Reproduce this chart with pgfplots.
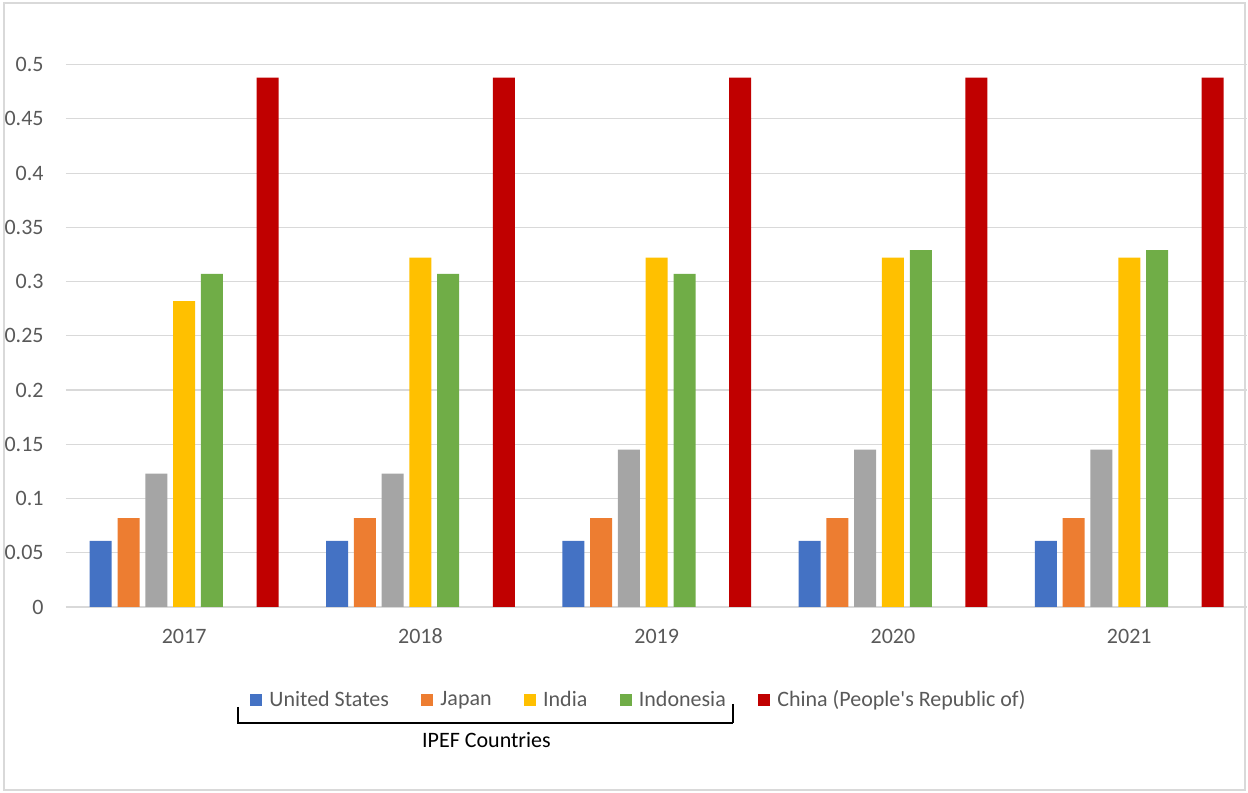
\documentclass[border=0pt]{standalone}
\usepackage{fontspec}
\setmainfont{Carlito}[Ligatures=TeXOff]
\usepackage{pgfplots}
\pgfplotsset{compat=1.18}

\definecolor{cUS}{HTML}{4472C4}
\definecolor{cJP}{HTML}{ED7D31}
\definecolor{cGR}{HTML}{A5A5A5}
\definecolor{cIN}{HTML}{FFC000}
\definecolor{cID}{HTML}{70AD47}
\definecolor{cCN}{HTML}{C00000}
\definecolor{cLab}{HTML}{595959}
\definecolor{cGrid}{HTML}{D9D9D9}

\begin{document}
\begin{tikzpicture}[font=\fontsize{11}{13}\selectfont]
  \begin{axis}[
      scale only axis,
      width=590.75pt,
      height=298.3pt,
      xmin=-0.5, xmax=4.5,
      ymin=0, ymax=0.55,
      enlargelimits=false,
      ybar,
      bar width=11pt,
      xtick={0,1,2,3,4},
      xticklabels={2017,2018,2019,2020,2021},
      ytick={0,0.05,0.1,0.15,0.2,0.25,0.3,0.35,0.4,0.45,0.5},
      scaled y ticks=false,
      yticklabel style={/pgf/number format/fixed,/pgf/number format/precision=2,
        anchor=east, inner sep=0pt, xshift=-11pt},
      xticklabel style={anchor=base, yshift=-18.5pt},
      /pgf/number format/assume math mode=true,
      tick label style={text=cLab},
      major tick length=0pt,
      axis line style={draw=none},
      ymajorgrids,
      grid style={draw=cGrid, line width=0.6pt},
      every axis plot/.append style={draw=none,
        legend image code/.code={\fill[#1,draw=none] (0pt,-3pt) rectangle (6pt,3pt);}},
      legend style={at={(0.15574,-0.1558)}, anchor=west, draw=none, fill=none,
        inner sep=0pt, text=cLab, legend columns=-1,
        /tikz/every even column/.append style={column sep=14.25pt},
        /tikz/every odd column/.append style={column sep=1.5pt}},
    ]
    % United States
    \addplot[fill=cUS, bar shift=-41.7pt] coordinates {
      (0,0.061) (1,0.061) (2,0.061) (3,0.061) (4,0.061)};
    % Japan
    \addplot[fill=cJP, bar shift=-27.8pt] coordinates {
      (0,0.082) (1,0.082) (2,0.082) (3,0.082) (4,0.082)};
    % unnamed grey series
    \addplot[fill=cGR, bar shift=-13.9pt, forget plot] coordinates {
      (0,0.123) (1,0.123) (2,0.145) (3,0.145) (4,0.145)};
    % India
    \addplot[fill=cIN, bar shift=0pt] coordinates {
      (0,0.282) (1,0.322) (2,0.322) (3,0.322) (4,0.322)};
    % Indonesia
    \addplot[fill=cID, bar shift=13.9pt] coordinates {
      (0,0.307) (1,0.307) (2,0.307) (3,0.329) (4,0.329)};
    % China
    \addplot[fill=cCN, bar shift=41.7pt] coordinates {
      (0,0.488) (1,0.488) (2,0.488) (3,0.488) (4,0.488)};
    \legend{United States, Japan, India, Indonesia, China (People's Republic of)}
  \end{axis}
  % bracket grouping the IPEF countries
  \draw[line width=1pt] (86pt,-50pt) -- (86pt,-58pt) -- (333.5pt,-58pt);
  \draw[line width=1pt] (333.5pt,-48.5pt) -- (333.5pt,-58pt);
  \node[text=black] at (210.25pt,-66.5pt) {IPEF Countries};
  % outer frame
  \draw[draw=cGrid, line width=0.6pt] (-31pt,-91.5pt) rectangle (589.5pt,302pt);
  \path[use as bounding box] (-33pt,-93pt) rectangle (591pt,303.5pt);
\end{tikzpicture}
\end{document}
